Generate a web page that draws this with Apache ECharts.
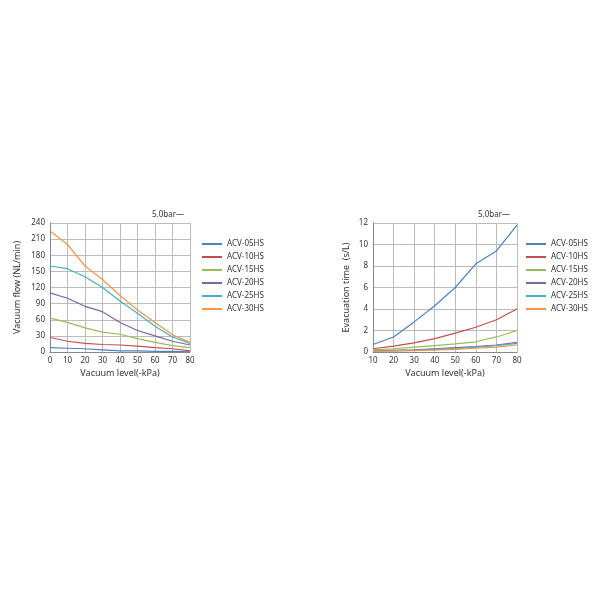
<!DOCTYPE html><html><head><meta charset="utf-8"><script src="https://cdn.jsdelivr.net/npm/echarts@6/dist/echarts.min.js"></script></head><body style="margin:0;background:#fff"><div id="c" style="width:600px;height:600px"></div><script>
const names=['ACV-05HS','ACV-10HS','ACV-15HS','ACV-20HS','ACV-25HS','ACV-30HS'];
const colors=['#4f81bd','#c0504d','#9bbb59','#8064a2','#4bacc6','#f79646'];
const xFlow=[0,10,20,30,40,50,60,70,80];
const flow05=[8,7,6,4,2,2,1,1,0.5];
const flow10=[27,20,16,14,13,11,8,6,2];
const flow15=[63,55,45,37,33,25,18,12,8];
const flow20=[110,100,85,75,55,40,30,20,13];
const flow25=[160,155,140,120,95,72,48,28,16];
const flow30=[225,200,160,135,105,78,55,32,18];
const xTime=[10,20,30,40,50,60,70,80];
const time05=[0.7,1.4,2.8,4.3,6,8.2,9.4,11.8];
const time10=[0.3,0.55,0.85,1.25,1.75,2.3,3,4];
const time15=[0.2,0.3,0.45,0.6,0.75,0.95,1.4,2];
const time20=[0.1,0.15,0.2,0.3,0.4,0.5,0.65,0.9];
const time25=[0.1,0.12,0.18,0.25,0.32,0.45,0.6,0.8];
const time30=[0.05,0.08,0.12,0.18,0.25,0.35,0.45,0.65];
const flows=[flow05,flow10,flow15,flow20,flow25,flow30];
const times=[time05,time10,time15,time20,time25,time30];
const F='Noto Sans',tc='#333';
const ax=(gi,min,max,iv,name,gap)=>({gridIndex:gi,type:'value',min,max,interval:iv,name,nameLocation:'middle',nameGap:gap,
 nameTextStyle:{fontSize:9,color:tc,fontFamily:F},axisLabel:{fontSize:8,color:tc,fontFamily:F,margin:5},
 axisLine:{show:true,lineStyle:{color:'#888'}},axisTick:{show:false},splitLine:{show:true,lineStyle:{color:'#bbb',width:1}}});
const series=[];
names.forEach((n,i)=>{
 series.push({name:n,type:'line',xAxisIndex:0,yAxisIndex:0,data:xFlow.map((x,j)=>[x,flows[i][j]]),symbol:'none',lineStyle:{width:1.2,color:colors[i]},itemStyle:{color:colors[i]}});
 series.push({name:n,type:'line',xAxisIndex:1,yAxisIndex:1,data:xTime.map((x,j)=>[x,times[i][j]]),symbol:'none',lineStyle:{width:1.2,color:colors[i]},itemStyle:{color:colors[i]}});
});
const leg=(left)=>({left,top:235,orient:'vertical',itemGap:5,itemWidth:20,itemHeight:2,icon:'rect',data:names,selectedMode:false,textStyle:{fontSize:8,color:tc,fontFamily:F}});
const chart=echarts.init(document.getElementById('c'));
chart.setOption({animation:false,
 grid:[{left:50,top:223,width:140,height:129},{left:373,top:223,width:144,height:129}],
 xAxis:[ax(0,0,80,10,'Vacuum level(-kPa)',17),ax(1,10,80,10,'Vacuum level(-kPa)',17)],
 yAxis:[ax(0,0,240,30,'Vacuum flow (NL/min)',28),ax(1,0,12,2,'Evacuation time  (s/L)',22)],
 legend:[leg(197),leg(521)],
 graphic:[{type:'text',left:152,top:211,style:{text:'5.0bar—',fontSize:8,fill:tc,fontFamily:F}},
          {type:'text',left:478,top:211,style:{text:'5.0bar—',fontSize:8,fill:tc,fontFamily:F}}],
 series});
</script></body></html>
